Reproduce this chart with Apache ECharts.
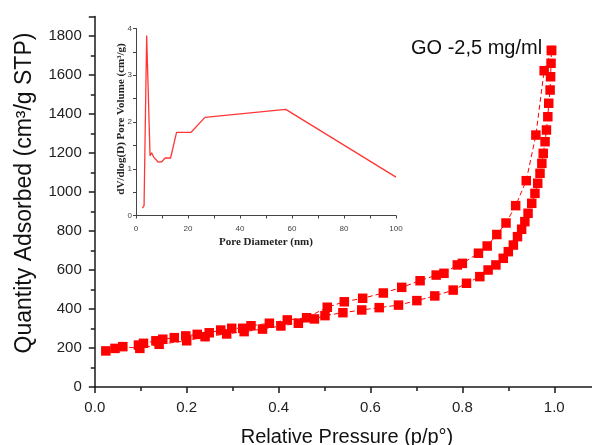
<!DOCTYPE html>
<html>
<head>
<meta charset="utf-8">
<script src="https://cdn.jsdelivr.net/npm/echarts@6/dist/echarts.min.js"></script>
<style>
  html, body { margin: 0; padding: 0; background: #fff; overflow: hidden; }
  /* the pressure axis runs on past the right edge of the window */
  #chart { width: 601px; height: 445px; }
</style>
</head>
<body>
<div id="chart"></div>
<script>
// N2 isotherm: adsorption branch (relative pressure, quantity adsorbed)
const adsP = [0.024,0.044,0.061,0.098,0.140,0.200,0.240,0.287,0.325,0.365,0.405,0.443,0.478,0.501,0.540,0.581,0.619,0.661,0.701,0.740,0.780,0.809,0.838,0.856,0.873,0.889,0.900,0.911,0.920,0.929,0.936,0.943,0.951,0.958,0.964,0.969,0.973,0.976,0.980,0.983,0.986,0.988,0.991,0.992,0.993,0.994];
const adsQ = [185,198,207,198,219,237,258,272,284,297,313,327,349,366,381,395,407,420,443,467,497,532,566,600,626,660,694,728,771,809,848,891,942,993,1045,1096,1147,1198,1258,1318,1386,1455,1523,1591,1660,1726];

// Desorption branch
const desP = [0.994,0.978,0.960,0.939,0.916,0.895,0.875,0.854,0.835,0.800,0.789,0.760,0.743,0.708,0.668,0.628,0.583,0.543,0.506,0.461,0.419,0.380,0.340,0.322,0.298,0.274,0.249,0.223,0.198,0.173,0.148,0.133,0.106,0.095];
const desQ = [1726,1622,1292,1058,930,841,782,723,686,634,626,583,574,545,511,482,455,437,409,355,344,327,314,301,301,292,278,270,262,253,245,237,224,215];

// Pore size distribution (inset)
const poreDiameter = [2.5,3.1,3.8,4.1,4.7,5.4,6.0,6.8,8.6,9.9,11.2,13.3,15.6,21.2,26.5,57.6,100];
const poreVolume = [0.16,0.21,0.23,3.85,3.85,1.28,1.34,1.25,1.14,1.15,1.23,1.23,1.78,1.78,2.10,2.27,0.82];

const sampleLabel = 'GO -2,5 mg/ml';
const xTitle = 'Relative Pressure (p/p°)';
const yTitle = 'Quantity Adsorbed (cm³/g STP)';
const insetXTitle = 'Pore Diameter (nm)';
const insetYTitle = 'dV/dlog(D) Pore Volume (cm³/g)';

const zip = (a, b) => a.map((v, i) => [v, b[i]]);

const sans = 'Liberation Sans, Arial, sans-serif';
const serif = 'Liberation Serif, Times New Roman, serif';
const axisDark = '#1a1a1a';
const red = '#ff0000';

const chart = echarts.init(document.getElementById('chart'), null, { renderer: 'canvas' });

const mainAxisCommon = {
  axisLine: { show: true, lineStyle: { color: axisDark, width: 1.5 } },
  axisTick: { show: true, inside: false, length: 6, lineStyle: { color: axisDark, width: 1.5 } },
  minorTick: { show: true, splitNumber: 2, length: 4, lineStyle: { color: axisDark, width: 1.5 } },
  splitLine: { show: false },
  axisLabel: { color: '#222', fontSize: 15, fontFamily: sans, margin: 13, showMaxLabel: false }
};

const insetAxisCommon = {
  axisLine: { show: true, lineStyle: { color: '#444', width: 1 } },
  axisTick: { show: true, inside: false, length: 3, lineStyle: { color: '#444', width: 1 } },
  minorTick: { show: true, splitNumber: 2, length: 3, lineStyle: { color: '#444', width: 1 } },
  splitLine: { show: false },
  axisLabel: { color: '#444', fontSize: 8, fontFamily: sans }
};

chart.setOption({
  animation: false,
  backgroundColor: '#fff',
  grid: [
    { left: 94.8, right: 0.8, top: 16.5, bottom: 58, containLabel: false },
    { left: 136, right: 205, top: 28.5, bottom: 229.5, containLabel: false }
  ],
  xAxis: [
    Object.assign({}, mainAxisCommon, {
      type: 'value', gridIndex: 0, min: 0, max: 1.1, interval: 0.2,
      axisLabel: Object.assign({}, mainAxisCommon.axisLabel, {
        formatter: v => v.toFixed(1)
      })
    }),
    Object.assign({}, insetAxisCommon, {
      type: 'value', gridIndex: 1, min: 0, max: 100, interval: 20,
      axisLabel: Object.assign({}, insetAxisCommon.axisLabel, { margin: 9 })
    })
  ],
  yAxis: [
    Object.assign({}, mainAxisCommon, {
      type: 'value', gridIndex: 0, min: 0, max: 1900, interval: 200,
      axisLabel: Object.assign({}, mainAxisCommon.axisLabel, {
        formatter: v => String(v)
      })
    }),
    Object.assign({}, insetAxisCommon, {
      type: 'value', gridIndex: 1, min: 0, max: 4, interval: 1,
      axisLabel: Object.assign({}, insetAxisCommon.axisLabel, { margin: 4 })
    })
  ],
  series: [
    {
      name: 'Adsorption', type: 'line', xAxisIndex: 0, yAxisIndex: 0,
      data: zip(adsP, adsQ),
      symbol: 'rect', symbolSize: 9.5,
      itemStyle: { color: red },
      lineStyle: { color: red, width: 1, type: [5, 3] },
      z: 3
    },
    {
      name: 'Desorption', type: 'line', xAxisIndex: 0, yAxisIndex: 0,
      data: zip(desP, desQ),
      symbol: 'rect', symbolSize: 9.5,
      itemStyle: { color: red },
      lineStyle: { color: red, width: 1, type: [5, 3] },
      z: 3
    },
    {
      name: 'Pore size distribution', type: 'line', xAxisIndex: 1, yAxisIndex: 1,
      data: zip(poreDiameter, poreVolume),
      showSymbol: false, symbol: 'none',
      lineStyle: { color: '#ff3636', width: 1.3 },
      z: 4
    }
  ],
  graphic: [
    {
      type: 'text', left: 411, top: 38,
      style: { text: sampleLabel, font: '20px ' + sans, fill: '#111' }
    },
    {
      type: 'text', x: 347, y: 437,
      style: { text: xTitle, font: '20px ' + sans, fill: '#111', align: 'center', verticalAlign: 'middle' }
    },
    {
      type: 'text', x: 25, y: 193, rotation: Math.PI / 2,
      style: { text: yTitle, font: '23px ' + sans, fill: '#111', align: 'center', verticalAlign: 'middle' }
    },
    {
      type: 'text', x: 266, y: 242,
      style: { text: insetXTitle, font: 'bold 11px ' + serif, fill: '#222', align: 'center', verticalAlign: 'middle' }
    },
    {
      type: 'text', x: 121, y: 119, rotation: Math.PI / 2,
      style: { text: insetYTitle, font: 'bold 11px ' + serif, fill: '#222', align: 'center', verticalAlign: 'middle' }
    }
  ]
});
</script>
</body>
</html>
